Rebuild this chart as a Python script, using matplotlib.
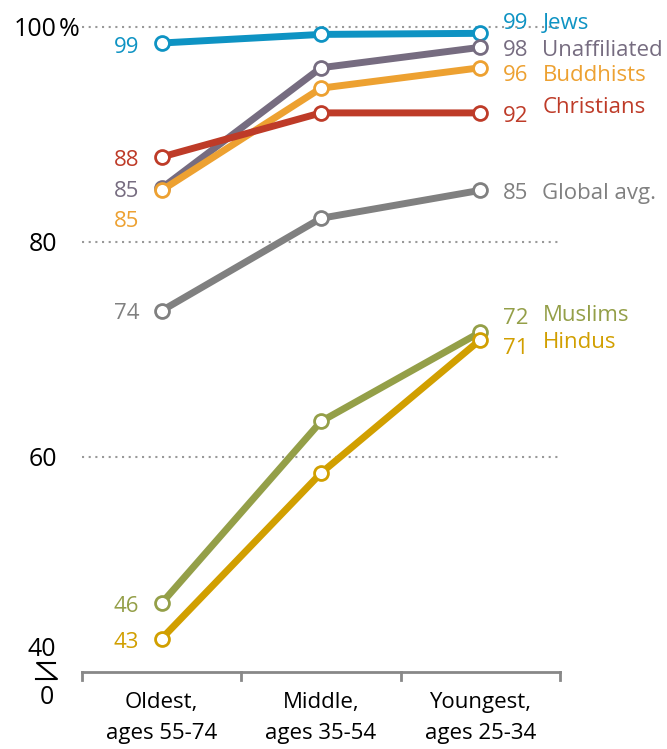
import matplotlib
matplotlib.use("Agg")
import matplotlib.pyplot as plt
from matplotlib.lines import Line2D

plt.rcParams['font.family'] = ['Open Sans', 'DejaVu Sans']

groups = ["Oldest,\nages 55-74", "Middle,\nages 35-54", "Youngest,\nages 25-34"]

names = ["Jews", "Unaffiliated", "Buddhists", "Christians", "Global avg.", "Muslims", "Hindus"]
colors = ["#0E93C3", "#766C80", "#EDA131", "#BE3B28", "#808080", "#949F48", "#D19F00"]

jews = [98.5, 99.3, 99.4]
unaffiliated = [85.0, 96.2, 98.1]
buddhists = [84.8, 94.3, 96.2]
christians = [87.9, 92.0, 92.0]
global_avg = [73.6, 82.2, 84.8]
muslims = [46.4, 63.3, 71.6]
hindus = [43.1, 58.5, 70.9]
series = [jews, unaffiliated, buddhists, christians, global_avg, muslims, hindus]

left_labels = ["99", "85", "85", "88", "74", "46", "43"]
right_labels = ["99", "98", "96", "92", "85", "72", "71"]
# label y positions (data units), nudged apart where lines crowd
left_y = [98.4, 85.0, 82.2, 87.9, 73.6, 46.4, 43.0]
right_num_y = [100.6, 98.1, 95.8, 92.0, 84.8, 73.2, 70.4]
right_name_y = [100.6, 98.1, 95.8, 92.8, 84.8, 73.5, 70.9]

W, H = 667, 749
fig = plt.figure(figsize=(W / 100, H / 100), dpi=100)
ax = fig.add_axes([82 / W, (H - 672) / H, (560 - 82) / W, 672 / H])
ax.set_xlim(-0.5, 2.5)
ax.set_ylim(40, 102.5)
ax.axis('off')

x = [0, 1, 2]
for yy in [60, 80, 100]:
    ax.plot([-0.5, 2.5], [yy, yy], ls=(0, (1, 2.2)), color="#999999", lw=1.5, zorder=1)

for vals, c in zip(series, colors):
    ax.plot(x, vals, color=c, lw=5, solid_capstyle='butt', zorder=2,
            marker='o', markersize=10, markerfacecolor='white',
            markeredgecolor=c, markeredgewidth=2)

fs = 16
dy = 0.3  # Open Sans sits a little high with va='center'
for lab, yy, c in zip(left_labels, left_y, colors):
    ax.text(-0.14, yy - dy, lab, color=c, fontsize=fs, ha='right', va='center')
for lab, name, yn, ym, c in zip(right_labels, names, right_num_y, right_name_y, colors):
    ax.text(2.14, yn - dy, lab, color=c, fontsize=fs, ha='left', va='center')
    ax.text(2.39, ym - dy, name, color=c, fontsize=fs, ha='left', va='center')

# bottom axis with category separators
ax.plot([-0.5, 2.5], [40, 40], color="#888888", lw=2, clip_on=False, zorder=3)
for bx in [-0.5, 0.5, 1.5, 2.5]:
    ax.plot([bx, bx], [40, 39.3], color="#888888", lw=2, clip_on=False, zorder=3)
for i, g in enumerate(groups):
    fig.text((82 + 159.3 * (i + 0.5)) / W, 1 - 692 / H, g, fontsize=fs,
             ha='center', va='top', linespacing=1.6)

# y labels
yfs = 18
fig.text(57 / W, 1 - 30 / H, "100", fontsize=yfs, ha='right', va='center')
fig.text(59 / W, 1 - 30 / H, "%", fontsize=yfs, ha='left', va='center')
fig.text(57 / W, 1 - 245 / H, "80", fontsize=yfs, ha='right', va='center')
fig.text(57 / W, 1 - 460 / H, "60", fontsize=yfs, ha='right', va='center')
fig.text(56 / W, 1 - 649 / H, "40", fontsize=yfs, ha='right', va='center')
fig.text(54 / W, 1 - 698 / H, "0", fontsize=yfs, ha='right', va='center')
bx = [55, 37, 57, 36]
by = [663, 663, 679, 679]
fig.add_artist(Line2D([v / W for v in bx], [1 - v / H for v in by],
                      color='black', lw=1.5))

fig.savefig("out.png", dpi=100)
